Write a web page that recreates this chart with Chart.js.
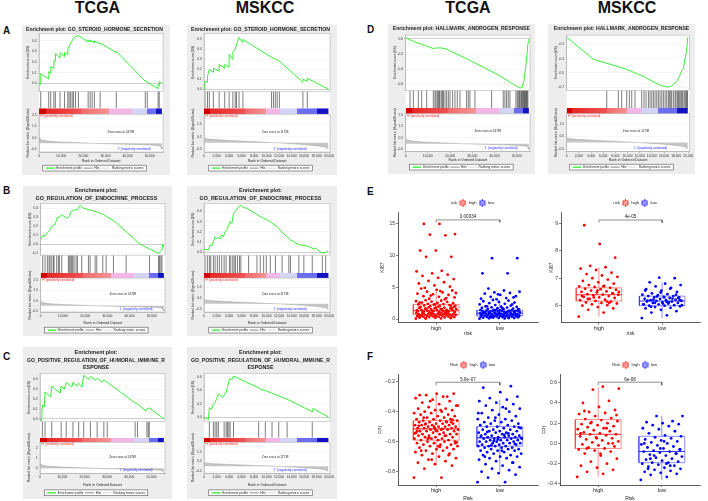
<!DOCTYPE html>
<html><head><meta charset="utf-8">
<script src="https://cdn.jsdelivr.net/npm/chart.js@4.4.1/dist/chart.umd.min.js"></script>
<style>
html,body{margin:0;padding:0;background:#fff}
body{position:relative;width:708px;height:501px;overflow:hidden;font-family:"Liberation Sans",Arial,Helvetica,sans-serif}
.hdr{position:absolute;top:0;font-size:16px;line-height:16px;font-weight:bold;color:#111;transform:translateX(-50%);white-space:nowrap}
.tag{position:absolute;font-size:10px;line-height:10px;font-weight:bold;color:#111}
.pn{position:absolute;background:#ededed}
.cv{position:absolute}
canvas{display:block}
</style></head>
<body>
<div class="hdr" style="left:97.5px">TCGA</div>
<div class="hdr" style="left:265px">MSKCC</div>
<div class="hdr" style="left:468px">TCGA</div>
<div class="hdr" style="left:627px">MSKCC</div>
<div class="tag" style="left:3px;top:25.5px">A</div>
<div class="tag" style="left:3px;top:186px">B</div>
<div class="tag" style="left:3px;top:352px">C</div>
<div class="tag" style="left:367px;top:25px">D</div>
<div class="tag" style="left:367px;top:186.5px">E</div>
<div class="tag" style="left:367px;top:352px">F</div>

<div class="pn" style="left:22px;top:25px;width:148px;height:150px"><canvas id="gA1" width="148" height="150"></canvas></div>
<div class="pn" style="left:187px;top:25px;width:150px;height:150px"><canvas id="gA2" width="150" height="150"></canvas></div>
<div class="pn" style="left:23px;top:186px;width:149px;height:150px"><canvas id="gB1" width="149" height="150"></canvas></div>
<div class="pn" style="left:187px;top:186px;width:150px;height:150px"><canvas id="gB2" width="150" height="150"></canvas></div>
<div class="pn" style="left:23px;top:347px;width:149px;height:152px"><canvas id="gC1" width="149" height="152"></canvas></div>
<div class="pn" style="left:187px;top:347px;width:150px;height:152px"><canvas id="gC2" width="150" height="152"></canvas></div>
<div class="pn" style="left:388px;top:24px;width:147px;height:150px"><canvas id="gD1" width="147" height="150"></canvas></div>
<div class="pn" style="left:548px;top:24px;width:147px;height:150px"><canvas id="gD2" width="147" height="150"></canvas></div>

<div class="cv" style="left:370px;top:196px"><canvas id="bE1" width="172" height="144"></canvas></div>
<div class="cv" style="left:532px;top:196px"><canvas id="bE2" width="172" height="144"></canvas></div>
<div class="cv" style="left:370px;top:358px"><canvas id="bF1" width="172" height="144"></canvas></div>
<div class="cv" style="left:532px;top:358px"><canvas id="bF2" width="172" height="144"></canvas></div>

<script>
// ======================= DATA =======================
const TCGA_N = 55500;
const MSKCC_N = 19900;
const TCGA_xticks = [0, 10000, 20000, 30000, 40000, 50000];
const MSKCC_xticks = [0, 2000, 4000, 6000, 8000, 10000, 12000, 14000, 16000, 18000, 20000];
const TCGA_rank_ticks = [-0.5, 0, 0.5, 1, 1.5, 2, 2.5];
const MSKCC_rank_ticks = [-0.5, 0, 0.5, 1, 1.5, 2];
const C1_rank_ticks = [0, 1, 2];

// ranked list metric (Signal2Noise) profiles
const TCGA_rank = [[0,0.45],[400,0.36],[1500,0.28],[4000,0.2],[9000,0.13],[16000,0.07],[24798,0],[34000,-0.05],[44000,-0.1],[51000,-0.15],[54300,-0.22],[55100,-0.32],[55500,-0.5]];
const MSKCC_rank = [[0,0.42],[300,0.33],[1500,0.27],[5000,0.17],[11738,0],[15500,-0.12],[18200,-0.25],[19400,-0.35],[19900,-0.5]];

// A: GO_STEROID_HORMONE_SECRETION
const A_TCGA_es = [[0,0],[700,-0.01],[770,0.09],[4400,0.04],[4420,0.11],[5300,0.09],[5320,0.16],[6700,0.14],[6720,0.21],[7400,0.21],[7420,0.28],[9500,0.24],[9520,0.29],[11500,0.25],[11520,0.29],[13000,0.27],[13020,0.32],[13600,0.35],[14300,0.38],[15000,0.40],[15600,0.43],[16500,0.44],[17800,0.45],[22200,0.39],[22220,0.41],[23100,0.39],[23120,0.41],[24000,0.39],[24020,0.40],[25000,0.38],[25020,0.40],[27600,0.37],[27620,0.38],[34900,0.29],[34920,0.30],[48000,0.02],[48020,0.03],[48900,0.01],[53800,-0.05],[53820,-0.01],[54300,-0.02],[54320,0.02],[55500,0.0]];
const A_TCGA_hits = [770,4400,5300,6700,7400,9500,11500,13000,13600,14300,15000,15600,16500,17800,22200,23100,24000,25000,27600,34900,48000,48900,53800,54300];
const A_MSKCC_es = [[0,0],[150,0.08],[550,0.07],[560,0.13],[850,0.20],[1500,0.17],[1520,0.21],[2400,0.18],[2420,0.25],[3300,0.21],[3320,0.25],[4000,0.22],[4020,0.35],[4600,0.30],[4620,0.38],[5000,0.40],[5200,0.45],[5600,0.52],[6200,0.47],[6220,0.50],[10800,0.32],[12100,0.28],[15800,0.07],[15820,0.10],[16500,0.08],[16520,0.11],[19900,0.0]];
const A_MSKCC_hits = [160,560,850,1500,2420,3320,4020,4620,5000,5200,5600,6220,10800,11100,11400,11700,12050,15820,16520];

// B: GO_REGULATION_OF_ENDOCRINE_PROCESS
const B_TCGA_es = [[0,0.05],[900,0.1],[1950,0.09],[2700,0.12],[3900,0.15],[4960,0.2],[6000,0.21],[6900,0.25],[7500,0.3],[8420,0.3],[9480,0.33],[10530,0.31],[11730,0.29],[12930,0.31],[13690,0.36],[15040,0.38],[16240,0.38],[17750,0.43],[19250,0.40],[20750,0.39],[22260,0.38],[25270,0.36],[28280,0.33],[33540,0.25],[44820,0.0],[53090,-0.1],[53840,-0.08],[54600,-0.06],[55050,0.0],[55400,-0.03]];
const B_TCGA_hits = [900,1950,3010,3760,4210,4960,5720,6020,7220,7970,8420,9480,12480,12930,13540,13990,14440,15040,15940,16540,18500,21510,22260,24510,25270,27970,29480,32790,38500,49030,53090,53540,54150,54600];
const B_MSKCC_es = [[0,0.03],[700,0.02],[960,0.07],[1230,0.06],[1500,0.1],[1770,0.15],[2040,0.13],[2300,0.15],[2570,0.13],[2840,0.17],[3110,0.15],[3380,0.2],[3640,0.22],[4180,0.3],[4450,0.28],[4720,0.38],[5250,0.42],[5790,0.46],[6320,0.44],[6860,0.43],[8470,0.37],[9540,0.33],[10080,0.32],[11680,0.25],[12760,0.18],[13830,0.12],[14900,0.08],[15440,0.07],[16510,0.06],[17580,0.03],[17850,0.04],[18650,0.0],[19190,-0.01],[19800,0.01]];
const B_MSKCC_hits = [160,540,860,1070,1500,1770,2140,2460,2840,3220,3540,4070,4290,4610,4820,5040,5360,5680,5900,7130,8470,9000,9540,9970,10610,11420,12490,13560,13830,15170,15970,17310,18920,19460];

// C: GO_POSITIVE_REGULATION_OF_HUMORAL_IMMUNE_RESPONSE
const C_TCGA_es = [[0,0],[750,-0.02],[1050,0.14],[1960,0.12],[2260,0.27],[4820,0.22],[5270,0.33],[9040,0.26],[9490,0.33],[10840,0.30],[11750,0.37],[14300,0.32],[14760,0.37],[16570,0.33],[17320,0.36],[18830,0.32],[19580,0.44],[21840,0.40],[22590,0.43],[24850,0.39],[25600,0.41],[27860,0.37],[28610,0.39],[30120,0.37],[42620,0.16],[43670,0.15],[47440,0.08],[48000,0.1],[48950,0.11],[55500,0.0]];
const C_TCGA_hits = [1050,2260,5270,9490,11750,14760,17320,19580,22590,25600,28610,30120,42620,43670,47890,48490,48950];
const C_MSKCC_es = [[0,0],[700,-0.04],[860,0.14],[1230,0.12],[1500,0.2],[1770,0.22],[2040,0.28],[2300,0.35],[3000,0.30],[3220,0.33],[3540,0.38],[3750,0.45],[4070,0.58],[4450,0.56],[4720,0.62],[8740,0.44],[9000,0.42],[9810,0.40],[10880,0.36],[13290,0.27],[17310,0.08],[17420,0.13],[19900,0.0]];
const C_MSKCC_hits = [860,1500,1770,2040,2300,3220,3540,3750,3970,4180,4720,8740,9810,10880,11950,13290,17310];

// D: HALLMARK_ANDROGEN_RESPONSE
const D_TCGA_es = [[0,0.02],[1000,0.0],[4000,-0.04],[8000,-0.08],[12500,-0.13],[13500,-0.12],[16000,-0.12],[18000,-0.13],[30000,-0.30],[42000,-0.48],[48500,-0.60],[51500,-0.65],[52500,-0.64],[53300,-0.55],[54000,-0.38],[54600,-0.22],[55100,-0.05],[55500,0.0]];
const D_TCGA_hits = [1950,3450,5700,7200,9450,12450,13200,13650,14250,14700,15150,15450,16200,16650,16950,17700,18450,19200,19950,21150,22200,23250,24450,27450,28200,28950,31200,38700,43950,44700,45450,46200,46950,49650,50250,50700,51150,51450,51900,52200,52650,52950,53250,53550,53850,54150,54450,54750,55050];
const D_MSKCC_es = [[0,0],[4380,-0.31],[7950,-0.40],[9860,-0.45],[12600,-0.55],[14800,-0.65],[15600,-0.68],[16170,-0.69],[16700,-0.70],[17260,-0.68],[18080,-0.62],[18520,-0.55],[18900,-0.47],[19180,-0.44],[19450,-0.30],[19700,-0.2],[19900,0.0]];
const D_MSKCC_hits = [6580,8490,9040,9860,10300,10690,11230,12330,12710,13040,13430,13700,13980,14250,14520,14800,15070,15340,15620,15890,16170,16440,16710,16880,17100,17260,17540,17810,17970,18190,18360,18520,18740,18900,19070,19290,19450,19620,19730,19850];

const ES_ticks_A1 = [0, 0.1, 0.2, 0.3, 0.4];
const ES_ticks_A2 = [0, 0.1, 0.2, 0.3, 0.4, 0.5];
const ES_ticks_B1 = [-0.1, 0, 0.1, 0.2, 0.3, 0.4];
const ES_ticks_B2 = [0, 0.1, 0.2, 0.3, 0.4];
const ES_ticks_C1 = [0, 0.1, 0.2, 0.3, 0.4];
const ES_ticks_C2 = [0, 0.1, 0.2, 0.3, 0.4, 0.5, 0.6];
const ES_ticks_D1 = [-0.6, -0.5, -0.4, -0.3, -0.2, -0.1, 0];
const ES_ticks_D2 = [-0.7, -0.6, -0.5, -0.4, -0.3, -0.2, -0.1, 0];

const titleA = 'Enrichment plot: GO_STEROID_HORMONE_SECRETION';
const titleB = ['Enrichment plot:', 'GO_REGULATION_OF_ENDOCRINE_PROCESS'];
const titleC = ['Enrichment plot:', 'GO_POSITIVE_REGULATION_OF_HUMORAL_IMMUNE_R', 'ESPONSE'];
const titleD = 'Enrichment plot: HALLMARK_ANDROGEN_RESPONSE';
const zeroText = {TCGA: 'Zero cross at 24798', MSKCC: 'Zero cross at 11738'};

// ---- box plots (E: KI67, F: FPI) ----
const riskGroups = ['high', 'low'];
const E1_high = [0.05,0.1,0.12,0.15,0.2,0.22,0.25,0.3,0.3,0.35,0.38,0.4,0.42,0.45,0.5,0.5,0.52,0.55,0.58,0.6,0.62,0.65,0.68,0.7,0.7,0.72,0.75,0.78,0.8,0.82,0.85,0.88,0.9,0.92,0.95,0.98,0.1,0.2,0.3,0.4,
1.0,1.05,1.1,1.12,1.15,1.2,1.22,1.25,1.3,1.3,1.35,1.4,1.42,1.45,1.5,1.55,1.6,1.62,1.65,1.7,1.75,1.8,1.85,1.9,1.95,1.1,1.2,1.3,1.4,1.5,1.6,1.7,1.8,1.9,1.25,
2.0,2.05,2.1,2.15,2.2,2.25,2.3,2.35,2.4,2.5,2.55,2.6,2.7,2.75,2.8,2.9,2.95,2.1,2.3,2.6,
3.1,3.2,3.4,3.5,3.6,3.8,3.9,4.0,4.2,4.3,4.5,4.6,4.8,3.3,3.7,4.1,4.4,4.9,
5.1,5.3,5.6,5.8,6.0,6.3,6.5,6.8,7.0,7.2,7.5,7.6,9.8,9.8,10.8,10.8,13.2,13.3,13.4,15.0,15.0];
const E1_low = [0.05,0.1,0.12,0.15,0.18,0.2,0.22,0.25,0.28,0.3,0.32,0.35,0.38,0.4,0.42,0.45,0.48,0.5,0.5,0.52,0.55,0.58,0.6,0.62,0.65,0.68,0.7,0.7,0.72,0.75,0.78,0.8,0.82,0.85,0.88,0.9,0.9,0.92,0.95,0.98,0.15,0.25,0.35,0.45,0.55,0.65,0.75,0.85,0.95,0.3,0.6,0.8,
1.0,1.02,1.05,1.08,1.1,1.12,1.15,1.18,1.2,1.22,1.25,1.28,1.3,1.32,1.35,1.38,1.4,1.05,1.15,1.25,1.35,1.1,1.3,
1.45,1.5,1.55,1.6,1.65,1.7,1.75,1.8,1.85,1.9,1.95,2.0,2.1,2.2,2.3,2.4,2.5,2.6,2.7,2.8,2.9,3.0,1.5,1.7,2.0,2.3,
3.1,3.2,3.3,3.5,3.6,3.8,4.0,4.1,4.2,4.3,4.5,4.8,3.4,3.9,7.2,7.2,9.6,9.6];
const E2_high = [5.6,5.75,5.85,5.9,5.95,6.0,6.02,6.05,6.08,6.1,6.12,6.15,6.17,6.2,6.22,6.25,6.28,6.3,6.32,6.35,6.38,6.4,6.4,6.42,6.45,6.48,6.5,6.52,6.55,6.58,6.6,6.62,6.65,6.68,6.7,6.72,6.75,6.8,6.85,6.9,6.95,7.0,7.05,7.1,7.15,7.2,7.3,7.35,7.4,7.45,7.75,8.25,8.93,6.1,6.3,6.5,6.7,6.25,6.45,6.55,6.35,6.15];
const E2_low = [5.55,5.65,5.75,5.8,5.85,5.9,5.92,5.95,5.98,6.0,6.0,6.02,6.05,6.05,6.08,6.1,6.1,6.12,6.15,6.15,6.17,6.18,6.2,6.2,6.22,6.25,6.25,6.28,6.3,6.3,6.32,6.35,6.35,6.38,6.4,6.42,6.45,6.5,6.55,6.6,6.65,6.7,6.75,6.8,6.85,7.0,7.02,6.05,6.12,6.22,6.28,6.08,6.18,6.26,6.33,6.02,6.14,5.96,6.4,6.48,6.55,6.62,6.1,6.2,6.3];
const F1_high = [-0.84,-0.84,-0.78,-0.76,-0.75,-0.74,-0.73,-0.72,-0.71,-0.70,-0.69,-0.68,-0.68,-0.67,-0.66,-0.66,-0.65,-0.65,-0.64,-0.64,-0.63,-0.63,-0.62,-0.62,-0.62,-0.61,-0.61,-0.60,-0.60,-0.60,-0.59,-0.59,-0.59,-0.58,-0.58,-0.58,-0.57,-0.57,-0.57,-0.56,-0.56,-0.56,-0.55,-0.55,-0.55,-0.55,-0.54,-0.54,-0.54,-0.53,-0.53,-0.53,-0.53,-0.52,-0.52,-0.52,-0.52,-0.51,-0.51,-0.51,-0.51,-0.50,-0.50,-0.50,-0.50,-0.49,-0.49,-0.49,-0.49,-0.48,-0.48,-0.48,-0.48,-0.47,-0.47,-0.47,-0.46,-0.46,-0.46,-0.45,-0.45,-0.45,-0.44,-0.44,-0.43,-0.43,-0.42,-0.42,-0.41,-0.41,-0.40,-0.40,-0.39,-0.39,-0.38,-0.38,-0.37,-0.36,-0.35,-0.34,-0.33,-0.32,-0.31,-0.30,-0.29,-0.28,-0.28,-0.29,-0.30,-0.33,-0.36,-0.39,-0.44,-0.47,-0.50,-0.53,-0.56,-0.58,-0.61,-0.63,-0.66,-0.69,-0.72,-0.545,-0.515,-0.485,-0.455,-0.525,-0.495,-0.465,-0.575,-0.605,-0.635];
const F1_low = [-0.87,-0.87,-0.84,-0.82,-0.81,-0.80,-0.79,-0.78,-0.77,-0.76,-0.75,-0.74,-0.73,-0.72,-0.71,-0.71,-0.70,-0.70,-0.69,-0.69,-0.68,-0.68,-0.67,-0.67,-0.66,-0.66,-0.66,-0.65,-0.65,-0.65,-0.64,-0.64,-0.64,-0.63,-0.63,-0.63,-0.63,-0.62,-0.62,-0.62,-0.61,-0.61,-0.61,-0.61,-0.60,-0.60,-0.60,-0.60,-0.59,-0.59,-0.59,-0.59,-0.58,-0.58,-0.58,-0.58,-0.57,-0.57,-0.57,-0.57,-0.56,-0.56,-0.56,-0.56,-0.55,-0.55,-0.55,-0.54,-0.54,-0.54,-0.53,-0.53,-0.53,-0.52,-0.52,-0.52,-0.51,-0.51,-0.50,-0.50,-0.50,-0.49,-0.49,-0.48,-0.48,-0.47,-0.47,-0.46,-0.46,-0.45,-0.45,-0.44,-0.43,-0.42,-0.41,-0.40,-0.39,-0.38,-0.37,-0.36,-0.35,-0.34,-0.33,-0.32,-0.31,-0.30,-0.27,-0.24,-0.23,-0.595,-0.575,-0.555,-0.535,-0.615,-0.585,-0.565,-0.545,-0.625,-0.505,-0.66,-0.7,-0.74,-0.44,-0.41,-0.38];
const F2_high = [-0.33,-0.3,-0.28,-0.26,-0.24,-0.22,-0.2,-0.18,-0.15,-0.12,-0.1,-0.08,-0.07,-0.06,-0.05,-0.04,-0.03,-0.02,-0.01,0.0,0.01,0.02,0.03,0.04,0.05,0.06,0.07,0.08,0.09,0.09,0.1,0.11,0.12,0.13,0.14,0.15,0.16,0.17,0.18,0.19,0.2,0.21,0.22,0.23,0.24,0.25,0.27,0.29,0.3,0.31,0.33,0.36,0.4,0.42,0.53,0.54,0.56,-0.05,0.0,0.05,0.1,0.15,0.2,0.28,-0.1,0.32];
const F2_low = [-0.36,-0.33,-0.31,-0.3,-0.29,-0.28,-0.27,-0.26,-0.25,-0.24,-0.23,-0.22,-0.21,-0.2,-0.19,-0.19,-0.18,-0.17,-0.16,-0.15,-0.14,-0.13,-0.12,-0.11,-0.1,-0.09,-0.08,-0.08,-0.07,-0.06,-0.05,-0.04,-0.03,-0.02,-0.01,0.0,0.01,0.02,0.03,0.04,0.05,0.06,0.07,0.08,0.1,0.12,0.14,0.15,0.17,0.18,0.19,0.2,0.21,0.22,0.27,0.27,-0.2,-0.15,-0.1,-0.05,0.0,-0.22,-0.12,-0.06,0.02,-0.25];
// box stats [lower whisker, Q1, median, Q3, upper whisker]
const E1_box = [[0.02,0.7,1.3,2.3,4.7],[0.02,0.5,0.9,1.4,2.75]];
const E2_box = [[5.6,6.17,6.4,6.65,7.4],[5.55,6.0,6.17,6.35,6.85]];
const F1_box = [[-0.76,-0.59,-0.515,-0.46,-0.28],[-0.8,-0.63,-0.575,-0.5,-0.32]];
const F2_box = [[-0.33,-0.05,0.09,0.235,0.55],[-0.36,-0.19,-0.08,0.07,0.27]];
const E1_yticks = [0, 5, 10, 15];
const E2_yticks = [6, 7, 8, 9];
const F1_yticks = [-0.8, -0.6, -0.4, -0.2];
const F2_yticks = [-0.4, -0.2, 0, 0.2, 0.4, 0.6];
const pValues = {E1: '0.00034', E2: '4e-05', F1: '5.8e-07', F2: '6e-08'};

// ======================= RENDERING =======================
Chart.defaults.font.family = '"Liberation Sans", Arial, Helvetica, sans-serif';
Chart.defaults.color = '#333';
const FONT = '"Liberation Sans", Arial, Helvetica, sans-serif';
const toXY = a => a.map(([x, y]) => ({x, y}));
const setTicks = arr => s => { s.ticks = arr.map(v => ({value: v})); };

const barStops = {
  TCGA: [[0,'#d00000'],[0.055,'#d00000'],[0.055,'#e62626'],[0.34,'#f05252'],[0.34,'#f26a6a'],[0.57,'#f59393'],[0.57,'#f4b6e6'],[0.76,'#f4b6e6'],[0.76,'#d4d4f7'],[0.88,'#d4d4f7'],[0.88,'#6c6cf0'],[0.95,'#6c6cf0'],[0.95,'#1212c4'],[1,'#1212c4']],
  MSKCC: [[0,'#d00000'],[0.046,'#d00000'],[0.046,'#e62626'],[0.33,'#f05252'],[0.33,'#f26a6a'],[0.5,'#f59393'],[0.5,'#f4b6e6'],[0.61,'#f4b6e6'],[0.61,'#d4d4f7'],[0.75,'#d4d4f7'],[0.75,'#6c6cf0'],[0.91,'#6c6cf0'],[0.91,'#1212c4'],[1,'#1212c4']]
};
function barGradient(chart, n, stops) {
  const x = chart.scales.x;
  if (!x || !isFinite(x.left)) return '#e00';
  const g = chart.ctx.createLinearGradient(x.getPixelForValue(0), 0, x.getPixelForValue(n), 0);
  stops.forEach(([o, c]) => g.addColorStop(o, c));
  return g;
}

const gseaDeco = {
  id: 'gseaDeco',
  beforeDraw(chart, args, o) {
    if (!o || !o.on) return;
    const {ctx, chartArea: a, legend} = chart;
    ctx.save();
    ctx.fillStyle = '#fff';
    ctx.fillRect(a.left, a.top, a.width, a.height);
    const hb = legend && legend.legendHitBoxes;
    if (hb && hb.length) {
      const l = Math.min(...hb.map(b => b.left)) - 3;
      const r = Math.max(...hb.map(b => b.left + b.width)) + 3;
      const t = hb[0].top - 1.3, h = hb[0].height + 2.6;
      ctx.fillRect(l, t, r - l, h);
      ctx.strokeStyle = '#555'; ctx.lineWidth = 0.6;
      ctx.strokeRect(l, t, r - l, h);
    }
    ctx.restore();
  },
  afterDatasetsDraw(chart, args, o) {
    if (!o || !o.on) return;
    const {ctx, chartArea: a, scales: s} = chart;
    ctx.save();
    ctx.strokeStyle = '#a8a8a8'; ctx.lineWidth = 0.5;
    ctx.strokeRect(a.left, s.yES.top, a.width, s.yES.height);
    ctx.strokeRect(a.left, s.yRank.top, a.width, s.yRank.height);
    ctx.font = '3px ' + FONT;
    ctx.textBaseline = 'middle';
    ctx.textAlign = 'left'; ctx.fillStyle = '#ff1a1a';
    ctx.fillText(o.pos, a.left + 1, s.yRank.top + 2.2);
    ctx.textAlign = 'center'; ctx.fillStyle = '#222';
    ctx.fillText(o.zero, s.x.getPixelForValue(o.zeroX), s.yRank.top + s.yRank.height * 0.47);
    ctx.fillStyle = '#2a2aff';
    ctx.fillText(o.neg, s.x.getPixelForValue(o.negX), s.yRank.bottom - 3.2);
    ctx.restore();
  }
};
const pText = {
  id: 'pText',
  afterDatasetsDraw(chart, args, o) {
    if (!o || !o.text) return;
    const {ctx, scales: {x, y}} = chart;
    ctx.save();
    ctx.font = '4.6px ' + FONT; ctx.fillStyle = '#222';
    ctx.textAlign = 'center'; ctx.textBaseline = 'bottom';
    ctx.fillText(o.text, x.getPixelForValue(1.5), y.getPixelForValue(o.y) - 0.6);
    ctx.restore();
  }
};
Chart.register(gseaDeco, pText);

const gseaLegend = () => [
  {text: 'Enrichment profile', pointStyle: 'line', strokeStyle: '#22ee22', fillStyle: '#22ee22', lineWidth: 1.2, fontColor: '#222'},
  {text: 'Hits', pointStyle: 'line', strokeStyle: '#333', fillStyle: '#333', lineWidth: 0.6, fontColor: '#222'},
  {text: 'Ranking metric scores', pointStyle: 'line', strokeStyle: '#bbb', fillStyle: '#bbb', lineWidth: 0.6, fontColor: '#222'}
];

function drawGSEA(p) {
  const c = p.cohort;
  const n = c === 'TCGA' ? TCGA_N : MSKCC_N;
  const xmax = c === 'TCGA' ? 56000 : 20150;
  const fmtR = v => (p.rStep1 ? String(v) : v.toFixed(1));
  const yBase = {type: 'linear', position: 'left', stack: 'g', afterFit: s => { s.width = p.yW; }};
  new Chart(document.getElementById(p.id), {
    type: 'line',
    data: {datasets: [
      {label: 'Enrichment profile', data: toXY(p.es), yAxisID: 'yES', borderColor: '#22ee22', borderWidth: 0.9, pointRadius: 0},
      {label: 'Hits', data: p.hits.map(x => ({x, y: 0.5})), yAxisID: 'yHit', showLine: false, pointStyle: 'line', pointRotation: 90,
        pointRadius: ctx => (ctx.chart.scales.yHit ? ctx.chart.scales.yHit.height / 2 : 5), pointBorderColor: '#262626', pointBorderWidth: 0.6, borderColor: '#262626'},
      {label: 'bar', data: [{x: 0, y: 0.5}, {x: n, y: 0.5}], yAxisID: 'yBar', pointRadius: 0, borderCapStyle: 'butt',
        borderWidth: ctx => (ctx.chart.scales.yBar ? ctx.chart.scales.yBar.height : 5), borderColor: ctx => barGradient(ctx.chart, n, barStops[c])},
      {label: 'Ranking metric scores', data: toXY(c === 'TCGA' ? TCGA_rank : MSKCC_rank), yAxisID: 'yRank', pointRadius: 0, borderColor: '#8a8a8a', borderWidth: 0.4, backgroundColor: '#c6c6c6', fill: 'origin'}
    ]},
    options: {
      responsive: false, animation: false, events: [],
      layout: {padding: {left: p.padL, right: p.padR, top: 0, bottom: p.padB}},
      plugins: {
        title: {display: true, text: p.title, color: '#1a1a1a', font: {size: 5.4, weight: 'bold', lineHeight: p.tLH}, padding: {top: p.tPad[0], bottom: p.tPad[1]}},
        legend: {position: 'bottom', maxHeight: 9, labels: {usePointStyle: true, pointStyleWidth: 9, padding: 1.5, color: '#222', font: {size: 3.2}, generateLabels: gseaLegend}},
        tooltip: {enabled: false},
        gseaDeco: {on: true, pos: "'H' (positively correlated)", neg: "'L' (negatively correlated)", zero: zeroText[c],
          zeroX: c === 'TCGA' ? 37000 : 11400, negX: c === 'TCGA' ? 42900 : 13760}
      },
      scales: {
        x: {type: 'linear', min: 0, max: xmax, afterBuildTicks: setTicks(c === 'TCGA' ? TCGA_xticks : MSKCC_xticks),
          ticks: {font: {size: 3.3}, color: '#333', padding: 0.5, maxRotation: 0, autoSkip: false, callback: v => v.toLocaleString('en-US')},
          grid: {drawOnChartArea: false, tickLength: 1.5, color: '#888', lineWidth: 0.5}, border: {color: '#999', width: 0.5},
          title: {display: true, text: 'Rank in Ordered Dataset', color: '#222', font: {size: 3.5}, padding: {top: 0, bottom: p.xtPad}},
          afterFit: s => { s.height = p.xH; }},
        yRank: Object.assign({}, yBase, {stackWeight: p.w[3], min: p.rMin, max: p.rMax, afterBuildTicks: setTicks(p.rT),
          ticks: {font: {size: 3.3}, color: '#333', padding: 1, callback: fmtR},
          grid: {color: '#efefef', lineWidth: 0.5, tickLength: 1.5}, border: {color: '#a8a8a8', width: 0.5},
          title: {display: true, text: 'Ranked list metric (Signal2Noise)', color: '#222', font: {size: 3.3}, padding: {top: 0.3, bottom: 0}}}),
        yBar: Object.assign({}, yBase, {stackWeight: p.w[2], min: 0, max: 1, ticks: {display: false}, grid: {display: false}, border: {display: false}}),
        yHit: Object.assign({}, yBase, {stackWeight: p.w[1], min: 0, max: 1, ticks: {display: false}, grid: {display: false}, border: {display: false}}),
        yES: Object.assign({}, yBase, {stackWeight: p.w[0], min: p.esMin, max: p.esMax, afterBuildTicks: setTicks(p.esT),
          ticks: {font: {size: 3.3}, color: '#333', padding: 1, callback: v => v.toFixed(1)},
          grid: {color: ctx => (ctx.tick && Math.abs(ctx.tick.value) < 1e-9 ? '#9a9a9a' : '#efefef'), lineWidth: 0.5, tickLength: 1.5},
          border: {color: '#a8a8a8', width: 0.5},
          title: {display: true, text: 'Enrichment score (ES)', color: '#222', font: {size: 3.3}, padding: {top: 0.3, bottom: 0}}})
      }
    }
  });
}

const gseaPanels = [
  {id: 'gA1', cohort: 'TCGA', title: titleA, es: A_TCGA_es, hits: A_TCGA_hits, esMin: -0.075, esMax: 0.47, esT: ES_ticks_A1, rMin: -0.77, rMax: 2.6, rT: TCGA_rank_ticks,
   w: [58, 17, 6, 38], padL: 4, yW: 13, padR: 7, padB: 1, xH: 13, xtPad: 1.9, tLH: 1.2, tPad: [1, 1]},
  {id: 'gA2', cohort: 'MSKCC', title: titleA, es: A_MSKCC_es, hits: A_MSKCC_hits, esMin: -0.02, esMax: 0.56, esT: ES_ticks_A2, rMin: -0.75, rMax: 2.35, rT: MSKCC_rank_ticks,
   w: [58, 17, 6, 38], padL: 4, yW: 13, padR: 7, padB: 1, xH: 13, xtPad: 1.9, tLH: 1.2, tPad: [1, 1]},
  {id: 'gB1', cohort: 'TCGA', title: titleB, es: B_TCGA_es, hits: B_TCGA_hits, esMin: -0.12, esMax: 0.455, esT: ES_ticks_B1, rMin: -0.6, rMax: 2.67, rT: TCGA_rank_ticks,
   w: [52, 18, 5, 34], padL: 4.7, yW: 13, padR: 7, padB: 0, xH: 15, xtPad: 1.8, tLH: 1.48, tPad: [0.5, 0.8]},
  {id: 'gB2', cohort: 'MSKCC', title: titleB, es: B_MSKCC_es, hits: B_MSKCC_hits, esMin: -0.03, esMax: 0.48, esT: ES_ticks_B2, rMin: -0.75, rMax: 2.35, rT: MSKCC_rank_ticks,
   w: [52, 18, 5, 34], padL: 4, yW: 13, padR: 7, padB: 0, xH: 15, xtPad: 1.8, tLH: 1.48, tPad: [0.5, 0.8]},
  {id: 'gC1', cohort: 'TCGA', title: titleC, es: C_TCGA_es, hits: C_TCGA_hits, esMin: -0.03, esMax: 0.46, esT: ES_ticks_C1, rMin: -0.5, rMax: 2.6, rT: C1_rank_ticks, rStep1: true,
   w: [48.4, 16, 4.6, 31], padL: 4, yW: 13, padR: 7, padB: 0.3, xH: 16.4, xtPad: 2.3, tLH: 1.44, tPad: [1.5, 1.5]},
  {id: 'gC2', cohort: 'MSKCC', title: titleC, es: C_MSKCC_es, hits: C_MSKCC_hits, esMin: -0.07, esMax: 0.66, esT: ES_ticks_C2, rMin: -0.73, rMax: 2.5, rT: MSKCC_rank_ticks,
   w: [48.4, 16, 4.6, 31], padL: 4, yW: 13, padR: 7, padB: 0.3, xH: 16.4, xtPad: 2.3, tLH: 1.44, tPad: [1.5, 1.5]},
  {id: 'gD1', cohort: 'TCGA', title: titleD, es: D_TCGA_es, hits: D_TCGA_hits, esMin: -0.68, esMax: 0.05, esT: ES_ticks_D1, rMin: -0.7, rMax: 2.6, rT: TCGA_rank_ticks,
   w: [55, 17.6, 5.7, 37.7], padL: 4.7, yW: 13, padR: 5, padB: 1, xH: 12.3, xtPad: 1.5, tLH: 1.2, tPad: [1.6, 3]},
  {id: 'gD2', cohort: 'MSKCC', title: titleD, es: D_MSKCC_es, hits: D_MSKCC_hits, esMin: -0.745, esMax: 0.03, esT: ES_ticks_D2, rMin: -0.75, rMax: 2.35, rT: MSKCC_rank_ticks,
   w: [55, 17.6, 5.7, 37.7], padL: 5.7, yW: 13, padR: 5.7, padB: 1, xH: 12.3, xtPad: 1.5, tLH: 1.2, tPad: [1.6, 3]}
];
gseaPanels.forEach(drawGSEA);

// ---------- box plots ----------
const riskColors = ['#ff0000', '#0000ff'];
const riskRGB = ['255,0,0', '0,0,255'];
function keyGlyph(rgb) {
  const c = document.createElement('canvas'); c.width = 7; c.height = 8;
  const x = c.getContext('2d');
  x.strokeStyle = 'rgb(' + rgb + ')'; x.lineWidth = 0.8;
  x.beginPath(); x.moveTo(3.5, 0); x.lineTo(3.5, 2); x.moveTo(3.5, 6); x.lineTo(3.5, 8); x.stroke();
  x.strokeRect(1, 2, 5, 4);
  x.beginPath(); x.moveTo(1, 4); x.lineTo(6, 4); x.stroke();
  return c;
}
const blankKey = (() => { const c = document.createElement('canvas'); c.width = 1; c.height = 1; return c; })();
const keys = riskRGB.map(keyGlyph);
const jit = i => ((i * 0.6180339887) % 1) * 2 - 1;
const BW = 0.36;

function drawBox(p) {
  const ds = [];
  riskGroups.forEach((g, gi) => {
    const xc = gi + 1, b = p.box[gi], rgb = riskRGB[gi];
    ds.push({data: p.vals[gi].map((v, i) => ({x: xc + jit(i) * p.jw, y: v})), showLine: false, pointRadius: 1.4, pointBackgroundColor: riskColors[gi], pointBorderWidth: 0, order: 5});
    ds.push({data: [{x: xc - BW, y: b[1]}, {x: xc + BW, y: b[1]}, {x: xc + BW, y: b[3]}, {x: xc - BW, y: b[3]}, {x: xc - BW, y: b[1]}],
      borderColor: 'rgba(' + rgb + ',0.5)', borderWidth: 0.9, pointRadius: 0, order: 3});
    ds.push({data: [{x: xc, y: b[0]}, {x: xc, y: b[1]}, {x: xc, y: null}, {x: xc, y: b[3]}, {x: xc, y: b[4]}], spanGaps: false,
      borderColor: 'rgba(' + rgb + ',0.5)', borderWidth: 0.9, pointRadius: 0, order: 3});
    ds.push({data: [{x: xc - BW, y: b[2]}, {x: xc + BW, y: b[2]}], borderColor: 'rgba(' + rgb + ',0.8)', borderWidth: 1.1, pointRadius: 0, order: 2});
  });
  ds.push({data: [{x: 1, y: p.br[0]}, {x: 1, y: p.br[1]}, {x: 2, y: p.br[1]}, {x: 2, y: p.br[0]}], borderColor: '#444', borderWidth: 0.6, pointRadius: 0, order: 1});
  new Chart(document.getElementById(p.id), {
    type: 'line',
    data: {datasets: ds},
    options: {
      responsive: false, animation: false, events: [],
      layout: {padding: {left: p.padL, right: p.padR, top: 2.75, bottom: 0}},
      plugins: {
        legend: {position: 'top', fullSize: false, maxHeight: 13.85, labels: {usePointStyle: true, pointStyleWidth: 7, padding: 2, color: '#222', font: {size: 4.3},
          generateLabels: () => [
            {text: p.legTitle, pointStyle: blankKey, lineWidth: 0, fontColor: '#222'},
            {text: riskGroups[0], pointStyle: keys[0], lineWidth: 0, fontColor: '#222'},
            {text: riskGroups[1], pointStyle: keys[1], lineWidth: 0, fontColor: '#222'}]}},
        tooltip: {enabled: false},
        pText: {text: p.pv, y: p.br[1]}
      },
      scales: {
        x: {type: 'linear', min: 0.4, max: 2.6, afterBuildTicks: setTicks([1, 2]),
          ticks: {callback: v => riskGroups[v - 1], font: {size: 5.4}, color: '#222', padding: 0.5, autoSkip: false, maxRotation: 0},
          grid: {drawOnChartArea: false, tickLength: 2, color: '#333', lineWidth: 0.6}, border: {color: '#333', width: 0.8},
          title: {display: true, text: p.xTitle, color: '#222', font: {size: 5}, padding: {top: 0, bottom: p.xtPad}},
          afterFit: s => { s.height = p.xH; }},
        y: {min: p.yMin, max: p.yMax, afterBuildTicks: setTicks(p.yT),
          ticks: {callback: p.fmt, font: {size: 5}, color: '#333', padding: 1},
          grid: {drawOnChartArea: false, tickLength: 2, color: '#333', lineWidth: 0.6}, border: {color: '#333', width: 0.8},
          title: {display: true, text: p.yTitle, color: '#222', font: {size: 5}, padding: {top: 0.5, bottom: 0}},
          afterFit: s => { s.width = p.yW; }}
      }
    }
  });
}
const fmtInt = v => String(v);
const fmt1 = v => v.toFixed(1).replace('-', '\u2212');
const boxPanels = [
  {id: 'bE1', vals: [E1_high, E1_low], box: E1_box, yMin: -0.58, yMax: 16.78, yT: E1_yticks, fmt: fmtInt, yTitle: 'KI67', xTitle: 'risk', legTitle: 'risk',
   pv: pValues.E1, br: [15.25, 15.63], padL: 8.8, yW: 19.2, padR: 4, xH: 17.3, xtPad: 3, jw: 0.32},
  {id: 'bE2', vals: [E2_high, E2_low], box: E2_box, yMin: 5.38, yMax: 9.39, yT: E2_yticks, fmt: fmtInt, yTitle: 'KI67', xTitle: 'risk', legTitle: 'risk',
   pv: pValues.E2, br: [9.02, 9.12], padL: 16, yW: 13, padR: 2, xH: 17.3, xtPad: 3, jw: 0.32},
  {id: 'bF1', vals: [F1_high, F1_low], box: F1_box, yMin: -0.889, yMax: -0.153, yT: F1_yticks, fmt: fmt1, yTitle: 'FPI', xTitle: 'Risk', legTitle: 'Risk',
   pv: pValues.F1, br: [-0.225, -0.204], padL: 7, yW: 21, padR: 4, xH: 17, xtPad: 0.5, jw: 0.35},
  {id: 'bF2', vals: [F2_high, F2_low], box: F2_box, yMin: -0.41, yMax: 0.679, yT: F2_yticks, fmt: fmt1, yTitle: 'FPI', xTitle: 'Risk', legTitle: 'Risk',
   pv: pValues.F2, br: [0.575, 0.604], padL: 9.5, yW: 18.5, padR: 3, xH: 17, xtPad: 0.5, jw: 0.33}
];
boxPanels.forEach(drawBox);
</script>
</body></html>
